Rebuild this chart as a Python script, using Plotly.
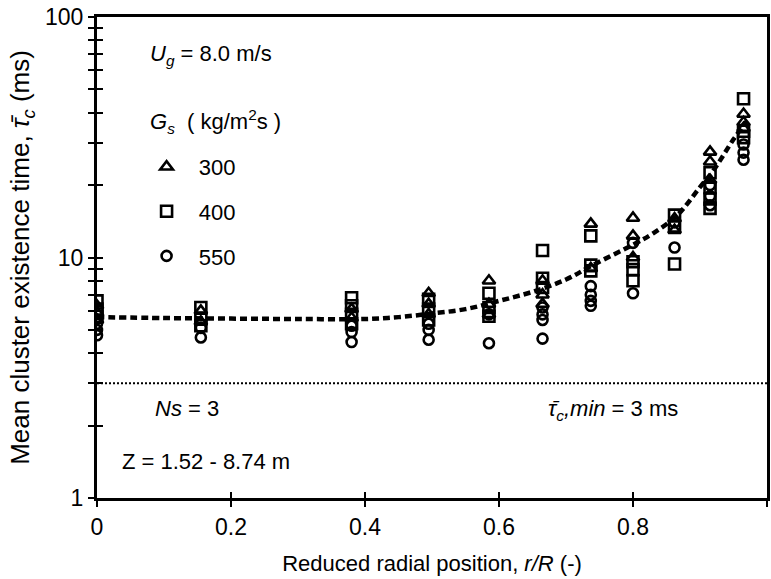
import plotly.graph_objects as go

# ---------------- data ----------------
r_pos = [0.0, 0.155, 0.38, 0.495, 0.585, 0.665, 0.737, 0.80, 0.862, 0.915, 0.965]

tri_300 = [
    [6.3, 5.9, 5.5],
    [6.0, 5.4],
    [6.1, 5.6],
    [7.1, 6.4, 5.8],
    [8.0, 6.4, 5.8],
    [8.0, 7.0, 6.4],
    [13.8, 9.0],
    [14.6, 12.3, 10.0],
    [14.5, 13.0],
    [27.5, 25.0, 21.0],
    [39.5, 36.5, 34.5],
]
sq_400 = [
    [6.6, 6.1, 5.7],
    [6.2, 5.6, 5.2],
    [6.8, 6.3, 5.8, 5.3],
    [6.7, 6.1, 5.5],
    [7.1, 6.2, 5.7],
    [10.7, 8.2, 7.5],
    [12.3, 9.3, 8.8],
    [9.6, 8.9, 8.0],
    [15.0, 13.5, 9.4],
    [22.5, 19.5, 17.5, 16.0],
    [45.7, 33.5, 31.5],
]
circ_550 = [
    [5.3, 5.0, 4.75],
    [5.1, 4.65],
    [5.2, 4.9, 4.45],
    [5.3, 5.0, 4.55],
    [5.8, 4.4],
    [6.2, 5.8, 5.5, 4.6],
    [7.6, 7.0, 6.6, 6.3],
    [11.5, 7.1],
    [14.0, 11.0],
    [20.0, 18.0, 16.5],
    [29.5, 27.3, 25.5],
]

fit_x = [0.0, 0.1, 0.2, 0.3, 0.4, 0.45, 0.5, 0.55, 0.6, 0.65, 0.7, 0.74,
         0.8, 0.83, 0.866, 0.9, 0.92, 0.95, 0.97]
fit_y = [5.65, 5.6, 5.57, 5.55, 5.55, 5.65, 5.85, 6.1, 6.6, 7.2, 8.1, 9.3,
         11.3, 12.6, 15.0, 19.6, 23.0, 31.0, 37.0]

TAU_MIN = 3
X_RANGE = [0, 1]

x_tickvals = [0, 0.2, 0.4, 0.6, 0.8, 1.0]
x_ticktext = ["0", "0.2", "0.4", "0.6", "0.8", "1"]
y_tickvals = [1, 2, 3, 4, 5, 6, 7, 8, 9, 10, 20, 30, 40, 50, 60, 70, 80, 90, 100]
y_ticktext = ["1", "", "", "", "", "", "", "", "", "10",
              "", "", "", "", "", "", "", "", "100"]

FONT = "Liberation Sans, Arial, sans-serif"
NB = "\u00a0\u00a0"


def flatten(groups):
    xs, ys = [], []
    for xv, vals in zip(r_pos, groups):
        for v in vals:
            xs.append(xv)
            ys.append(v)
    return xs, ys


fig = go.Figure()

# reference minimum line
fig.add_trace(go.Scatter(
    x=X_RANGE, y=[TAU_MIN, TAU_MIN], mode="lines",
    line=dict(color="black", width=2, dash="2px,2px"),
    showlegend=False, hoverinfo="skip"))

# fitted curve
fig.add_trace(go.Scatter(
    x=fit_x, y=fit_y, mode="lines",
    line=dict(color="black", width=4.5, dash="7px,4px", shape="spline"),
    showlegend=False, hoverinfo="skip"))

series = [
    ("300", tri_300, "triangle-up-open", 11),
    ("400", sq_400, "square-open", 11),
    ("550", circ_550, "circle-open", 10),
]
for name, groups, sym, size in series:
    xs, ys = flatten(groups)
    fig.add_trace(go.Scatter(
        x=xs, y=ys, mode="markers", name=NB + name, legendgroup=name,
        marker=dict(symbol=sym, size=size, color="black",
                    line=dict(color="black", width=2.6))))

# dummy trace to attach overlay axes for inside ticks
fig.add_trace(go.Scatter(x=[], y=[], xaxis="x2", yaxis="y2", showlegend=False))

axis_font = dict(family=FONT, size=23, color="black")

fig.update_layout(
    width=771, height=579,
    margin=dict(l=97, r=1, t=17, b=81),
    paper_bgcolor="white", plot_bgcolor="white",
    font=dict(family=FONT, size=22, color="black"),
    xaxis=dict(
        range=X_RANGE, tickvals=x_tickvals, ticktext=x_ticktext,
        ticks="outside", ticklen=6, tickwidth=2, tickcolor="black",
        showline=True, linewidth=3, linecolor="black", mirror=True,
        showgrid=False, zeroline=False, tickfont=axis_font,
        title=dict(text="Reduced radial position, <i>r/R</i> (-)",
                   font=dict(family=FONT, size=22, color="black"), standoff=18),
    ),
    yaxis=dict(
        type="log", range=[0, 2], tickvals=y_tickvals, ticktext=y_ticktext,
        ticks="outside", ticklen=6, tickwidth=2, tickcolor="black",
        showline=True, linewidth=3, linecolor="black", mirror=True,
        showgrid=False, zeroline=False, tickfont=axis_font,
        title=dict(text="Mean cluster existence time, <i>τ̄<sub>c</sub></i> (ms)",
                   font=dict(family=FONT, size=26, color="black"), standoff=8),
    ),
    xaxis2=dict(
        overlaying="x", range=X_RANGE, tickvals=x_tickvals,
        ticks="inside", ticklen=6, tickwidth=2, tickcolor="black",
        showticklabels=False, showline=False, showgrid=False, zeroline=False,
    ),
    yaxis2=dict(
        overlaying="y", type="log", range=[0, 2], tickvals=y_tickvals,
        ticks="inside", ticklen=6, tickwidth=2, tickcolor="black",
        showticklabels=False, showline=False, showgrid=False, zeroline=False,
    ),
    legend=dict(
        x=0.074, y=0.732, xanchor="left", yanchor="top",
        bgcolor="rgba(0,0,0,0)", font=dict(family=FONT, size=22),
        tracegroupgap=13, itemsizing="trace",
    ),
    showlegend=True,
)

ann_font = dict(family=FONT, size=22, color="black")
annotations = [
    ("<i>U<sub>g</sub></i> = 8.0 m/s", 0.076, 0.921),
    ("<i>G<sub>s</sub></i>  ( kg/m<sup>2</sup>s )", 0.076, 0.782),
    ("<i>Ns</i> = 3", 0.083, 0.187),
    ("Z = 1.52 - 8.74 m", 0.034, 0.075),
    ("<i>τ̄<sub>c</sub>,min</i> = 3 ms", 0.67, 0.183),
]
for text, ax, ay in annotations:
    fig.add_annotation(text=text, x=ax, y=ay, xref="paper", yref="paper",
                       xanchor="left", yanchor="middle", align="left",
                       showarrow=False, font=ann_font)

fig.write_html("out.html")
